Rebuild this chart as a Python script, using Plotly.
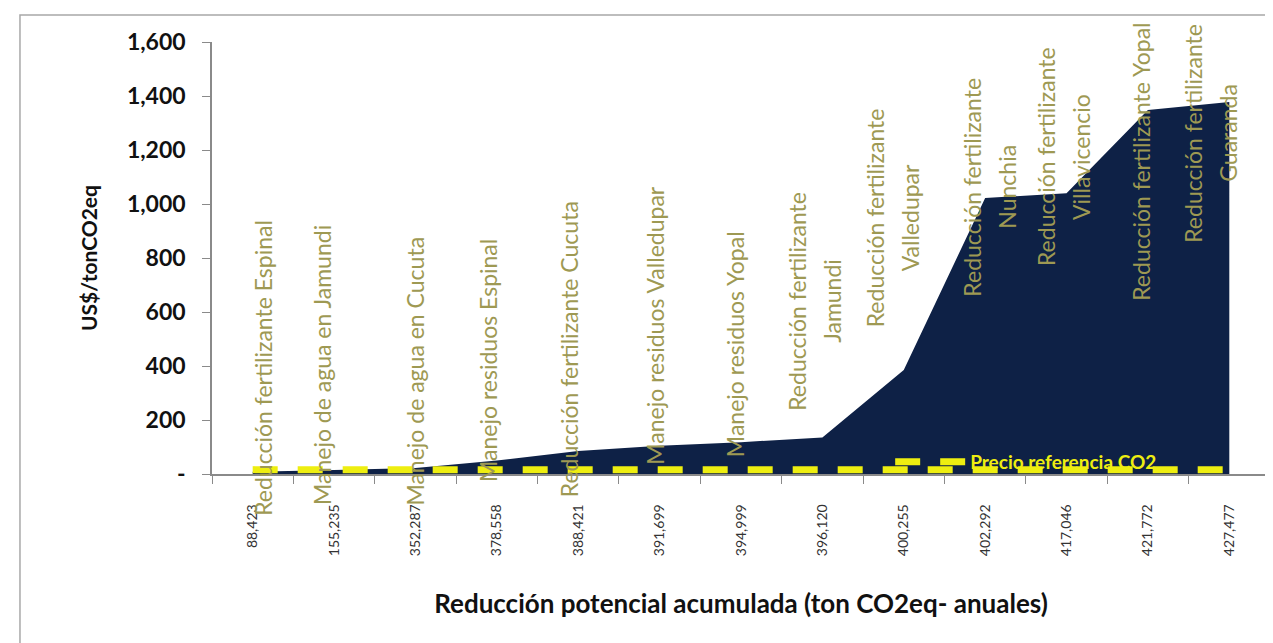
import plotly.graph_objects as go

# ---- data ----
categories = ["88,423", "155,235", "352,287", "378,558", "388,421", "391,699",
              "394,999", "396,120", "400,255", "402,292", "417,046", "421,772", "427,477"]
costo = [8, 15, 22, 50, 85, 105, 118, 135, 385, 1022, 1040, 1348, 1378]
precio_referencia = [16, 16, 16, 16, 16, 16, 16, 16, 16, 16, 16, 16, 16]
medidas = [
    ["Reducción fertilizante Espinal"],
    ["Manejo de agua en Jamundi"],
    ["Manejo de agua en Cucuta"],
    ["Manejo residuos Espinal"],
    ["Reducción fertilizante Cucuta"],
    ["Manejo residuos Valledupar"],
    ["Manejo residuos Yopal"],
    ["Reducción fertilizante", "Jamundi"],
    ["Reducción fertilizante", "Valledupar"],
    ["Reducción fertilizante", "Nunchia"],
    ["Reducción fertilizante", "Villavicencio"],
    ["Reducción fertilizante Yopal"],
    ["Reducción fertilizante", "Guaranda"],
]
y_tick_vals = [0, 200, 400, 600, 800, 1000, 1200, 1400, 1600]
y_tick_text = ["-", "200", "400", "600", "800", "1,000", "1,200", "1,400", "1,600"]

# ---- layout helpers (label placement) ----
label_y = [392, 404, 381, 422, 463, 548, 481, 641, 948, 1063, 1174, 1156, 1263]
label_dx = [10, -12, 0, -9, -9, -5, -6, -8, -11, 4, -3, -7, -19]
LINE_GAP = 35

NAVY = "#0e2146"
YELLOW = "#eeee10"
OLIVE = "#9e9953"
FONT = "Lato"

fig = go.Figure()
fig.add_trace(go.Scatter(
    x=categories, y=costo, mode="none", fill="tozeroy",
    fillcolor=NAVY, showlegend=False, hoverinfo="skip"))
fig.add_trace(go.Scatter(
    x=categories, y=precio_referencia, mode="lines",
    line=dict(color=YELLOW, width=7, dash="25px,20px"),
    name="Precio referencia CO2", showlegend=True))

annotations = []
for i, lines in enumerate(medidas):
    n = len(lines)
    for j, txt in enumerate(lines):
        annotations.append(dict(
            x=categories[i], y=label_y[i], xref="x", yref="y",
            text=txt, textangle=-90, showarrow=False,
            xanchor="center", yanchor="middle",
            xshift=label_dx[i] + (j - (n - 1) / 2) * LINE_GAP,
            font=dict(family=FONT, size=23, color=OLIVE)))

fig.update_layout(
    width=1265, height=635,
    margin=dict(l=204, r=3, t=34, b=169, pad=0),
    paper_bgcolor="white", plot_bgcolor="white",
    font=dict(family=FONT, color="#222222"),
    annotations=annotations,
    legend=dict(x=0.641, y=0.028, xanchor="left", yanchor="middle",
                bgcolor="rgba(0,0,0,0)", itemwidth=70,
                font=dict(family=FONT, size=19, color=YELLOW, weight="bold")),
    shapes=[dict(type="path", xref="paper", yref="paper",
                 path="M -0.1815,-0.5 L -0.1815,1.0625 L 1.01,1.0625",
                 line=dict(color="#a8a8a8", width=1.5))],
    xaxis=dict(
        type="category", range=[-0.5, 12.5],
        showline=True, linecolor="#8a8a8a", linewidth=1.5,
        ticks="outside", ticklen=8, tickcolor="#8a8a8a", tickson="boundaries",
        tickangle=-90, tickfont=dict(family=FONT, size=14, color="#333333"),
        ticklabelstandoff=23, showgrid=False, zeroline=False,
        title=dict(text="<b>Reducción potencial acumulada (ton CO2eq- anuales)</b>",
                   font=dict(family=FONT, size=26, color="#111111"), standoff=40)),
    yaxis=dict(
        range=[0, 1600], tickvals=y_tick_vals, ticktext=y_tick_text,
        showline=True, linecolor="#8a8a8a", linewidth=1.5,
        ticks="outside", ticklen=8, tickcolor="#8a8a8a",
        tickfont=dict(family=FONT, size=23, color="#111111", weight="bold"),
        ticklabelstandoff=12, showgrid=False, zeroline=False,
        title=dict(text="<b>US$/tonCO2eq</b>",
                   font=dict(family=FONT, size=21, color="#111111"), standoff=24)),
)

fig.write_html("out.html")
